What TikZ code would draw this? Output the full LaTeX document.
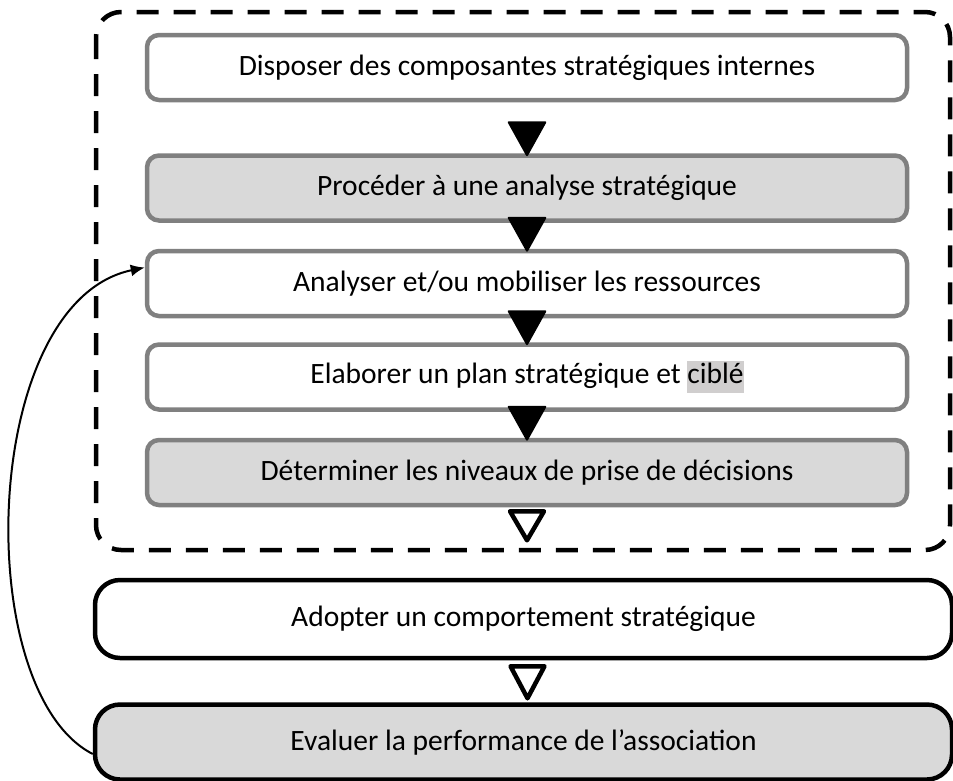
\documentclass[tikz,border=0pt]{standalone}
\usepackage{fontspec,xcolor}
\setmainfont{Carlito}
\usetikzlibrary{arrows.meta,positioning,calc}
\definecolor{mid}{HTML}{808080}
\definecolor{pale}{HTML}{D9D9D9}
\definecolor{hilite}{HTML}{D0CECE}

\begin{document}
\begin{tikzpicture}[node distance=26pt, every node/.style={font=\fontsize{29.5pt}{32pt}\selectfont,align=center}, box/.style={draw=mid,line width=4.5pt,rounded corners=12pt,minimum width=760pt,minimum height=65pt,inner sep=0pt}, tone/.style={fill=pale}, big/.style={draw=black,line width=4.5pt,rounded corners=25pt,minimum width=857pt,inner sep=0pt}, tri/.style={fill=black,rounded corners=2pt}, hollow/.style={draw=black,fill=white,line width=4.5pt,line join=round}, frame/.style={draw=black,line width=4.5pt,dash pattern=on 22pt off 15pt,rounded corners=25pt}, fb/.style={-{Latex[length=14pt,width=12pt]},line width=2pt}]
\useasboundingbox (0,0) rectangle (953pt,-780pt);
% dashed frame round the first steps
\draw[frame] (96pt,-12pt) rectangle (950pt,-550pt);
\node[box] (dispo) at (527pt,-67.5pt) {Disposer des composantes stratégiques internes};
\node[box,tone,below=51pt of dispo] (analyse) {Procéder à une analyse stratégique};
\node[box,below=of analyse] (ressources) {Analyser et/ou mobiliser les ressources};
\node[box,below=24pt of ressources] (plan) {Elaborer un plan stratégique et {\setlength{\fboxsep}{0pt}\colorbox{hilite}{\strut ciblé}}};
\node[box,tone,below=of plan] (niveaux) {Déterminer les niveaux de prise de décisions};
\node[big,minimum height=78pt] (adopter) at (523.5pt,-619pt) {Adopter un comportement stratégique};
\node[big,tone,minimum height=75pt,below=42pt of adopter] (evaluer) {Evaluer la performance de l’association};
% block arrows
\foreach \t in {analyse,ressources,plan,niveaux} \fill[tri] ($(\t.north)+(-20pt,32pt)$) -- ++(40pt,0) -- ($(\t.north)+(0,-4pt)$) -- cycle;
\draw[hollow] ($(niveaux.south)+(-17pt,-4pt)$) -- ++(34pt,0) -- ($(niveaux.south)+(0,-33pt)$) -- cycle;
\draw[hollow] ($(adopter.south)+(-13pt,-6pt)$) -- ++(34pt,0) -- ($(adopter.south)+(4pt,-38pt)$) -- cycle;
% feedback loop
\draw[fb] ([yshift=-12pt]evaluer.west) .. controls +(-123pt,63pt) and +(-165pt,-34pt) .. ([yshift=16pt]ressources.west);
\end{tikzpicture}
\end{document}
